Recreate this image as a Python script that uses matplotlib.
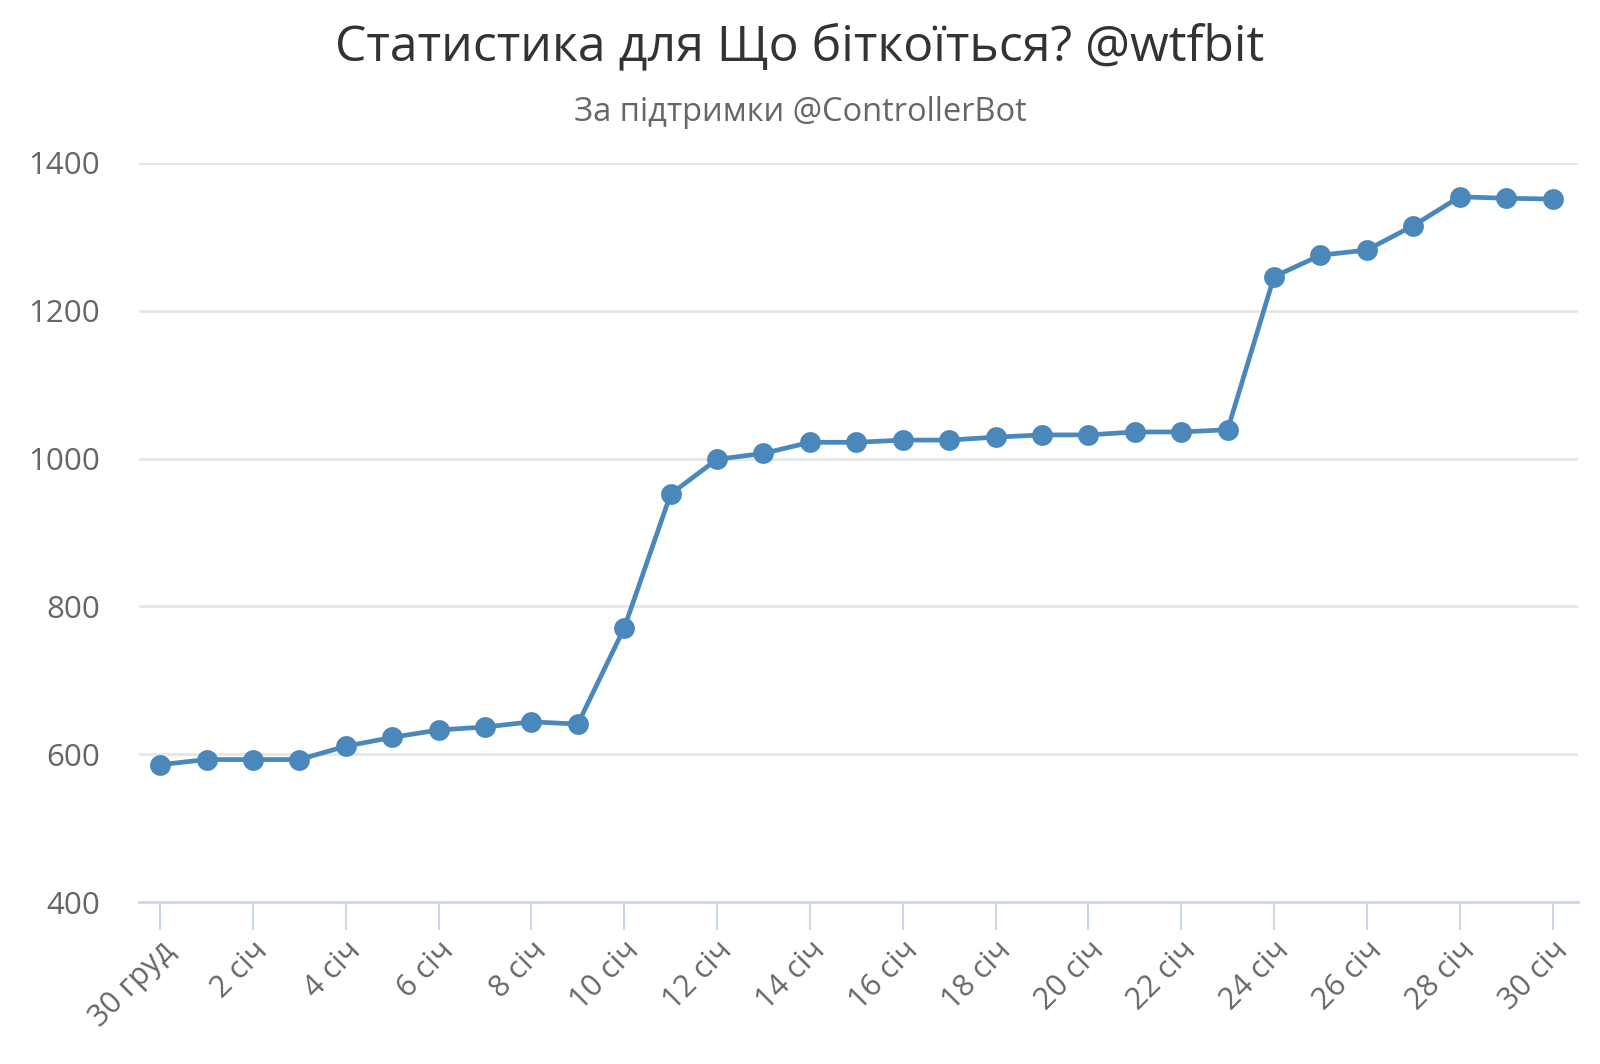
import matplotlib.pyplot as plt

# Дані
dates = ["30 груд"] + [f"{d} січ" for d in range(1, 31)]
values = [586, 593, 593, 593, 611, 623, 633, 637, 644, 641,
          771, 952, 999, 1007, 1022, 1022, 1025, 1025, 1029, 1032,
          1032, 1036, 1036, 1039, 1246, 1275, 1282, 1315, 1354, 1352, 1351]
yticks = [400, 600, 800, 1000, 1200, 1400]

plt.rcParams["font.family"] = ["Open Sans", "DejaVu Sans"]

fig = plt.figure(figsize=(16, 10.64), dpi=100)
ax = fig.add_axes([0.087, 0.152, 0.899, 0.695])

x = list(range(len(dates)))
ax.plot(x, values, color="#4a88bc", linewidth=3.4, marker="o",
        markersize=15, markeredgewidth=0, zorder=3)

ax.set_ylim(400, 1400)
ax.set_xlim(-0.45, len(dates) - 0.46)
ax.set_yticks(yticks)
ax.set_yticklabels([str(v) for v in yticks], fontsize=22.5, color="#666666")
ax.grid(axis="y", color="#e6e6e6", linewidth=2)
ax.set_axisbelow(True)

tick_pos = x[::2]
ax.set_xticks(tick_pos)
ax.set_xticklabels([dates[i] for i in tick_pos], rotation=45, ha="right",
                   rotation_mode="anchor", fontsize=22, color="#666666")
ax.tick_params(axis="x", length=20, width=1.5, color="#ccd6eb", pad=4)
ax.tick_params(axis="y", length=0, pad=28)

for s in ["top", "right", "left"]:
    ax.spines[s].set_visible(False)
ax.spines["bottom"].set_color("#ccd6eb")
ax.spines["bottom"].set_linewidth(2)

fig.text(0.5, 0.955, "Статистика для Що біткоїться? @wtfbit", ha="center",
         va="center", fontsize=36, color="#333333")
fig.text(0.5, 0.894, "За підтримки @ControllerBot", ha="center",
         va="center", fontsize=23.5, color="#666666")

plt.savefig("out.png", dpi=100)
